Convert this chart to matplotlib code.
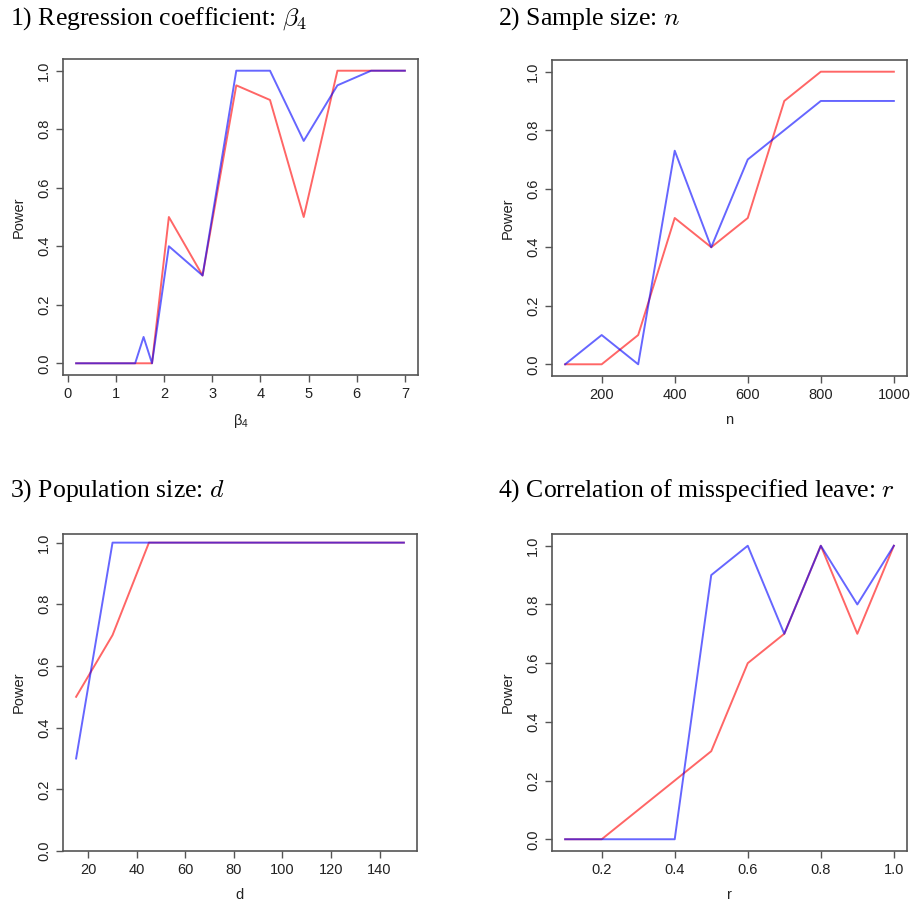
import matplotlib
matplotlib.use("Agg")
import matplotlib.pyplot as plt

plt.rcParams['font.family'] = ['Liberation Sans', 'DejaVu Sans']

# panel 1: regression coefficient beta4
beta = [0.175, 0.35, 0.7, 1.05, 1.4, 1.575, 1.75, 2.1, 2.8, 3.5, 4.2, 4.9, 5.6, 6.3, 7.0]
beta_red = [0, 0, 0, 0, 0, 0, 0, 0.5, 0.3, 0.95, 0.9, 0.5, 1.0, 1.0, 1.0]
beta_blue = [0, 0, 0, 0, 0, 0.09, 0, 0.4, 0.3, 1.0, 1.0, 0.76, 0.95, 1.0, 1.0]

# panel 2: sample size n
n_vals = [100, 200, 300, 400, 500, 600, 700, 800, 900, 1000]
n_red = [0, 0, 0.1, 0.5, 0.4, 0.5, 0.9, 1.0, 1.0, 1.0]
n_blue = [0, 0.1, 0, 0.73, 0.4, 0.7, 0.8, 0.9, 0.9, 0.9]

# panel 3: population size d
d_vals = [15, 30, 45, 60, 75, 90, 105, 120, 135, 150]
d_red = [0.5, 0.7, 1.0, 1.0, 1.0, 1.0, 1.0, 1.0, 1.0, 1.0]
d_blue = [0.3, 1.0, 1.0, 1.0, 1.0, 1.0, 1.0, 1.0, 1.0, 1.0]

# panel 4: correlation r
r_vals = [0.1, 0.2, 0.3, 0.4, 0.5, 0.6, 0.7, 0.8, 0.9, 1.0]
r_red = [0, 0, 0.1, 0.2, 0.3, 0.6, 0.7, 1.0, 0.7, 1.0]
r_blue = [0, 0, 0, 0, 0.9, 1.0, 0.7, 1.0, 0.8, 1.0]

titles = [r"1) Regression coefficient: $\beta_4$", r"2) Sample size: $n$",
          r"3) Population size: $d$", r"4) Correlation of misspecified leave: $r$"]
xlabels = [r"$\mathregular{\beta_4}$", "n", "d", "r"]
xticks = [[0, 1, 2, 3, 4, 5, 6, 7], [200, 400, 600, 800, 1000],
          [20, 40, 60, 80, 100, 120, 140], [0.2, 0.4, 0.6, 0.8, 1.0]]
xticklabels = [None, None, None, ["0.2", "0.4", "0.6", "0.8", "1.0"]]
panels = [(beta, beta_red, beta_blue), (n_vals, n_red, n_blue),
          (d_vals, d_red, d_blue), (r_vals, r_red, r_blue)]

W, H = 912, 906
fig = plt.figure(figsize=(W / 100, H / 100), dpi=100)

boxes = [(63, 59, 418, 375), (552, 60, 907, 376), (63, 534, 417, 851), (552, 534, 907, 851)]
title_pos = [(10, 25), (498, 25), (10, 497), (498, 497)]

gray = "#555555"
for i, (x, red, blue) in enumerate(panels):
    l, t, r, b = boxes[i]
    ax = fig.add_axes([l / W, 1 - b / H, (r - l) / W, (b - t) / H])
    ax.plot(x, red, color="#ff0000", alpha=0.6, lw=1.4)
    ax.plot(x, blue, color="#0000ff", alpha=0.6, lw=1.4)
    ax.margins(0.04)
    ax.set_yticks([0, 0.2, 0.4, 0.6, 0.8, 1.0])
    ax.set_yticklabels(["0.0", "0.2", "0.4", "0.6", "0.8", "1.0"], rotation=90, va="center")
    ax.set_xticks(xticks[i])
    if xticklabels[i]:
        ax.set_xticklabels(xticklabels[i])
    ax.tick_params(colors=gray, labelcolor="#222222", labelsize=10.5, length=5, width=1)
    for s in ax.spines.values():
        s.set_color(gray)
        s.set_linewidth(1.2)
    ax.set_ylabel("Power", fontsize=10.5, color="#222222", labelpad=8)
    ax.set_xlabel(xlabels[i], fontsize=10.5, color="#222222", labelpad=8)
    tx, ty = title_pos[i]
    fig.text(tx / W, 1 - ty / H, titles[i], family="Liberation Serif", fontsize=18.5,
             va="baseline", ha="left", math_fontfamily="cm")

fig.savefig("out.png", dpi=100)
